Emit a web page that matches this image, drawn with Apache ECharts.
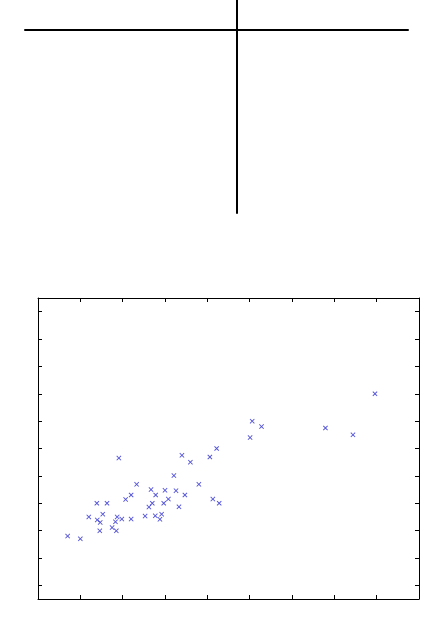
<!DOCTYPE html>
<html>
<head>
<meta charset="utf-8">
<script src="https://cdn.jsdelivr.net/npm/echarts@6/dist/echarts.min.js"></script>
<style>
  html, body { margin: 0; padding: 0; background: #fff; }
  #main { width: 433px; height: 624px; }
</style>
</head>
<body>
<div id="main"></div>
<script>
  // x / y of the scattered points
  var xVals = [0.70, 1.00, 1.20, 1.39, 1.63, 1.40, 1.47, 1.53, 1.46, 1.75,
               1.83, 1.87, 1.85, 1.98, 1.91, 2.07, 2.20, 2.20, 2.33, 2.53,
               2.62, 2.67, 2.70, 2.78, 2.77, 2.88, 2.92, 2.97, 3.00, 3.08,
               3.21, 3.26, 3.33, 3.40, 3.47, 3.60, 3.80, 4.06, 4.13, 4.22,
               4.28, 5.06, 5.01, 5.28, 6.79, 7.44, 7.96];
  var yVals = [2.80, 2.70, 3.50, 4.00, 4.00, 3.39, 3.30, 3.60, 2.99, 3.11,
               3.32, 3.50, 2.99, 3.42, 5.65, 4.14, 4.30, 3.42, 4.69, 3.53,
               3.86, 4.50, 4.00, 4.30, 3.54, 3.41, 3.60, 4.00, 4.47, 4.15,
               5.01, 4.46, 3.87, 5.75, 4.30, 5.50, 4.69, 5.69, 4.15, 6.00,
               4.00, 7.00, 6.40, 6.80, 6.75, 6.50, 8.00];
  var yTicks = [1, 2, 3, 4, 5, 6, 7, 8, 9, 10, 11];

  var points = xVals.map(function (x, i) { return [x, yVals[i]]; });

  var crossMark = 'path://M0,1.3L1.3,0L5,3.7L8.7,0L10,1.3L6.3,5L10,8.7L8.7,10L5,6.3L1.3,10L0,8.7L3.7,5Z';

  function boxAxis(extra) {
    return Object.assign({
      type: 'value',
      axisLine: { show: true, onZero: false, lineStyle: { color: '#000', width: 1 } },
      axisTick: { show: true, inside: true, length: 4, lineStyle: { color: '#000' } },
      axisLabel: { show: false },
      splitLine: { show: false }
    }, extra);
  }

  var myChart = echarts.init(document.getElementById('main'));

  var option = {
    backgroundColor: '#fff',
    animation: false,
    grid: [
      { left: 25, top: 0, width: 383, height: 213 },
      { left: 38, top: 298, width: 381, height: 301 }
    ],
    xAxis: [
      {
        gridIndex: 0, type: 'value', min: -212, max: 171,
        axisLine: { show: true, onZero: true, lineStyle: { color: '#000', width: 2 } },
        axisTick: { show: false }, axisLabel: { show: false }, splitLine: { show: false }
      },
      boxAxis({ gridIndex: 1, min: 0, max: 9, interval: 1, position: 'bottom' }),
      boxAxis({ gridIndex: 1, min: 0, max: 9, interval: 1, position: 'top' })
    ],
    yAxis: [
      {
        gridIndex: 0, type: 'value', min: -183, max: 30,
        axisLine: { show: true, onZero: true, lineStyle: { color: '#000', width: 2 } },
        axisTick: { show: false }, axisLabel: { show: false }, splitLine: { show: false }
      },
      boxAxis({ gridIndex: 1, min: 0.5, max: 11.5, position: 'left',
        axisTick: { show: true, inside: true, length: 4, customValues: yTicks, lineStyle: { color: '#000' } } }),
      boxAxis({ gridIndex: 1, min: 0.5, max: 11.5, position: 'right',
        axisTick: { show: true, inside: true, length: 4, customValues: yTicks, lineStyle: { color: '#000' } } })
    ],
    series: [
      {
        type: 'scatter',
        xAxisIndex: 1,
        yAxisIndex: 1,
        symbol: crossMark,
        symbolSize: 5,
        itemStyle: { color: '#2a2ad0' },
        data: points
      }
    ]
  };

  myChart.setOption(option);
</script>
</body>
</html>
